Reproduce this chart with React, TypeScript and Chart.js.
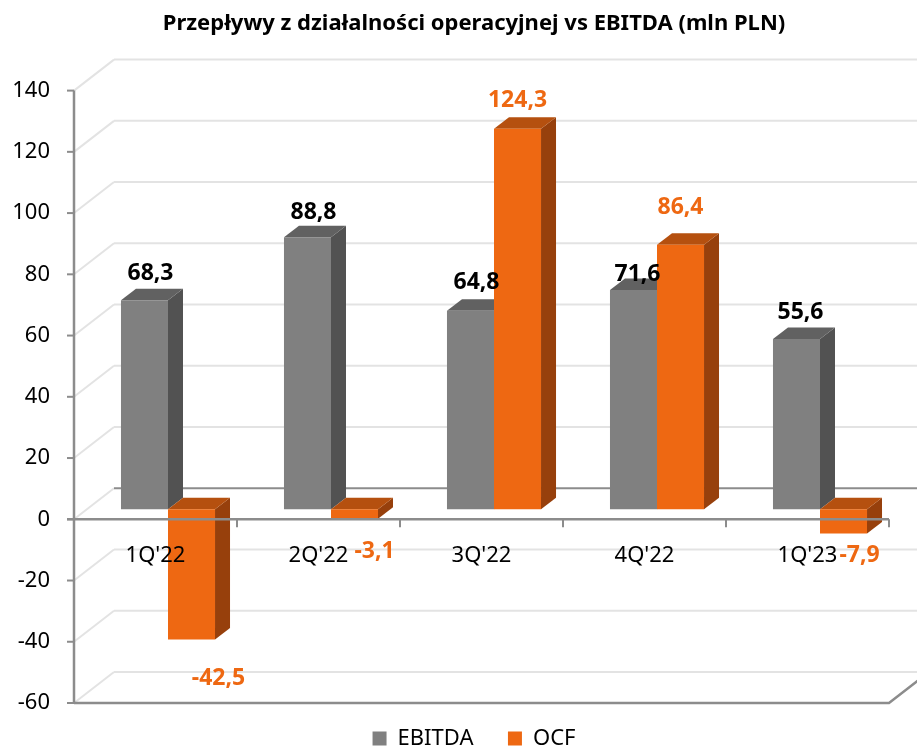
import React, { useEffect, useRef } from 'react';
import { Chart, registerables } from 'chart.js';

Chart.register(...registerables);

const categories = ["1Q'22", "2Q'22", "3Q'22", "4Q'22", "1Q'23"];
const ebitda = [68.3, 88.8, 64.8, 71.6, 55.6];
const ocf = [-42.5, -3.1, 124.3, 86.4, -7.9];
const yTicks = [-60, -40, -20, 0, 20, 40, 60, 80, 100, 120, 140];
const seriesNames = ['EBITDA', 'OCF'];

const FONT = "'Noto Sans', sans-serif";

// perspective offsets relative to the bar plane
const FRONT = { dx: -12.5, dy: 10 };
const BACK = { dx: 27.5, dy: -21 };
const DEPTH = { dx: 15, dy: -11.5 };
const frontColors = ['#808080', '#EE6812'];
const faceColors = [
  { top: '#616161', side: '#525252' },
  { top: '#B5500F', side: '#97400C' },
];
const labelColors = ['#000000', '#EE6812'];
// label nudges [dx, dy] from bar top (positive) / bottom (negative)
const labelShift = [
  [[6, -27], [6, -25], [6, -28], [4, -16], [4, -27]],
  [[27, 39], [20, 33], [0, -28], [0, -37], [16, 22]],
];
const AXIS = '#8c8c8c';
const GRID = '#e3e3e3';

const fmt = (v: number) => v.toFixed(1).replace('.', ',');

function barRect(chart: any, d: number, i: number) {
  const el = chart.getDatasetMeta(d).data[i];
  const { x, y, base, width } = el.getProps(['x', 'y', 'base', 'width'], true);
  return {
    x,
    l: x - width / 2,
    r: x + width / 2,
    t: Math.min(y, base),
    b: Math.max(y, base),
  };
}

const threeD = {
  id: 'threeD',
  beforeDatasetsDraw(chart: any) {
    const { ctx, chartArea: a, scales } = chart;
    const ys = scales.y;
    ctx.save();
    ctx.lineWidth = 2;
    // back wall gridlines + side wall diagonals
    yTicks.forEach((v) => {
      const y = ys.getPixelForValue(v);
      ctx.strokeStyle = GRID;
      ctx.beginPath();
      ctx.moveTo(a.left + FRONT.dx, y + FRONT.dy);
      ctx.lineTo(a.left + BACK.dx, y + BACK.dy);
      ctx.stroke();
      ctx.strokeStyle = v === 0 ? AXIS : GRID;
      ctx.beginPath();
      ctx.moveTo(a.left + BACK.dx, y + BACK.dy);
      ctx.lineTo(chart.width + 20, y + BACK.dy);
      ctx.stroke();
    });
    // floor front edge
    const yf = ys.getPixelForValue(yTicks[0]);
    const yt = ys.getPixelForValue(yTicks[yTicks.length - 1]);
    ctx.strokeStyle = AXIS;
    ctx.lineWidth = 2.5;
    ctx.beginPath();
    ctx.moveTo(a.left + FRONT.dx, yf + FRONT.dy);
    ctx.lineTo(a.right + FRONT.dx, yf + FRONT.dy);
    ctx.lineTo(a.right + BACK.dx, yf + BACK.dy);
    ctx.stroke();
    // front vertical axis
    const xa = a.left + FRONT.dx;
    ctx.beginPath();
    ctx.moveTo(xa, yt + FRONT.dy);
    ctx.lineTo(xa, yf + FRONT.dy);
    ctx.stroke();
    ctx.lineWidth = 2;
    yTicks.forEach((v) => {
      const y = ys.getPixelForValue(v) + FRONT.dy;
      ctx.beginPath();
      ctx.moveTo(xa - 7, y);
      ctx.lineTo(xa, y);
      ctx.stroke();
    });
    // bar side and top faces
    for (let i = 0; i < categories.length; i++) {
      for (let d = 0; d < chart.data.datasets.length; d++) {
        const { l, r, t, b } = barRect(chart, d, i);
        ctx.fillStyle = faceColors[d].side;
        ctx.beginPath();
        ctx.moveTo(r, t);
        ctx.lineTo(r + DEPTH.dx, t + DEPTH.dy);
        ctx.lineTo(r + DEPTH.dx, b + DEPTH.dy);
        ctx.lineTo(r, b);
        ctx.closePath();
        ctx.fill();
        ctx.fillStyle = faceColors[d].top;
        ctx.beginPath();
        ctx.moveTo(l, t);
        ctx.lineTo(l + DEPTH.dx, t + DEPTH.dy);
        ctx.lineTo(r + DEPTH.dx, t + DEPTH.dy);
        ctx.lineTo(r, t);
        ctx.closePath();
        ctx.fill();
      }
    }
    ctx.restore();
  },
  afterDatasetsDraw(chart: any) {
    const { ctx, chartArea: a, scales } = chart;
    const ys = scales.y;
    const xs = scales.x;
    ctx.save();
    // front category axis at zero
    const y0 = ys.getPixelForValue(0) + FRONT.dy;
    ctx.strokeStyle = AXIS;
    ctx.lineWidth = 2.5;
    ctx.beginPath();
    ctx.moveTo(a.left + FRONT.dx - 7, y0);
    ctx.lineTo(a.right + FRONT.dx, y0);
    ctx.stroke();
    ctx.lineWidth = 2;
    const step = (a.right - a.left) / categories.length;
    for (let k = 0; k < categories.length; k++) {
      const x = xs.getPixelForValue(k) + step / 2 + FRONT.dx;
      ctx.beginPath();
      ctx.moveTo(x, y0);
      ctx.lineTo(x, y0 + 8);
      ctx.stroke();
    }
    // data labels
    ctx.font = `bold 23px ${FONT}`;
    ctx.textAlign = 'center';
    ctx.textBaseline = 'middle';
    for (let d = 0; d < chart.data.datasets.length; d++) {
      const data = chart.data.datasets[d].data;
      for (let i = 0; i < data.length; i++) {
        const v = data[i] as number;
        const { x, t, b } = barRect(chart, d, i);
        const [sx, sy] = labelShift[d][i];
        ctx.fillStyle = labelColors[d];
        ctx.fillText(fmt(v), x + sx, (v >= 0 ? t : b) + sy);
      }
    }
    ctx.restore();
  },
};

export default function App() {
  const ref = useRef<HTMLCanvasElement | null>(null);
  useEffect(() => {
    if (!ref.current) return;
    const chart = new Chart(ref.current, {
      type: 'bar',
      data: {
        labels: categories,
        datasets: [
          {
            label: seriesNames[0],
            data: ebitda,
            yAxisID: 'y',
            backgroundColor: frontColors[0],
            borderWidth: 0,
            categoryPercentage: 0.577,
            barPercentage: 1,
          },
          {
            label: seriesNames[1],
            data: ocf,
            yAxisID: 'y',
            backgroundColor: frontColors[1],
            borderWidth: 0,
            categoryPercentage: 0.577,
            barPercentage: 1,
          },
        ],
      },
      options: {
        animation: false,
        responsive: true,
        maintainAspectRatio: false,
        layout: { padding: { left: 0, right: 0, top: 0, bottom: -12.5 } },
        plugins: {
          title: {
            display: true,
            text: 'Przepływy z działalności operacyjnej vs EBITDA (mln PLN)',
            color: '#000',
            font: { family: FONT, size: 22, weight: 'bold' },
            padding: { top: 11, bottom: 43.2 },
          },
          legend: {
            position: 'bottom',
            labels: {
              boxWidth: 14,
              boxHeight: 14,
              padding: 34.5,
              color: '#000',
              font: { family: FONT, size: 22 },
            },
          },
          tooltip: { enabled: false },
        },
        scales: {
          x: {
            type: 'category',
            position: { y: 0 } as any,
            grid: { display: false, drawTicks: false },
            border: { display: false },
            ticks: {
              z: 1,
              padding: 33.4,
              labelOffset: -12.5,
              color: '#000',
              autoSkip: false,
              maxRotation: 0,
              font: { family: FONT, size: 22 },
            },
          },
          y: {
            position: 'left',
            min: -60,
            max: 140,
            afterFit: (s: any) => {
              s.width = 86.5;
            },
            grid: { display: false, drawTicks: false },
            border: { display: false },
            ticks: {
              stepSize: 20,
              labelOffset: 10,
              padding: 36.5,
              color: '#000',
              font: { family: FONT, size: 22 },
            },
          },
          y2: {
            position: 'right',
            afterFit: (s: any) => {
              s.width = 46.5;
            },
            grid: { display: false, drawTicks: false },
            border: { display: false },
            ticks: { display: false },
          },
        },
      },
      plugins: [threeD],
    });
    return () => chart.destroy();
  }, []);
  return (
    <div style={{ position: 'fixed', left: 0, top: 0, width: 917, height: 747, overflow: 'hidden', background: '#fff' }}>
      <div style={{ position: 'relative', width: 948, height: 747 }}>
        <canvas ref={ref} />
      </div>
    </div>
  );
}
